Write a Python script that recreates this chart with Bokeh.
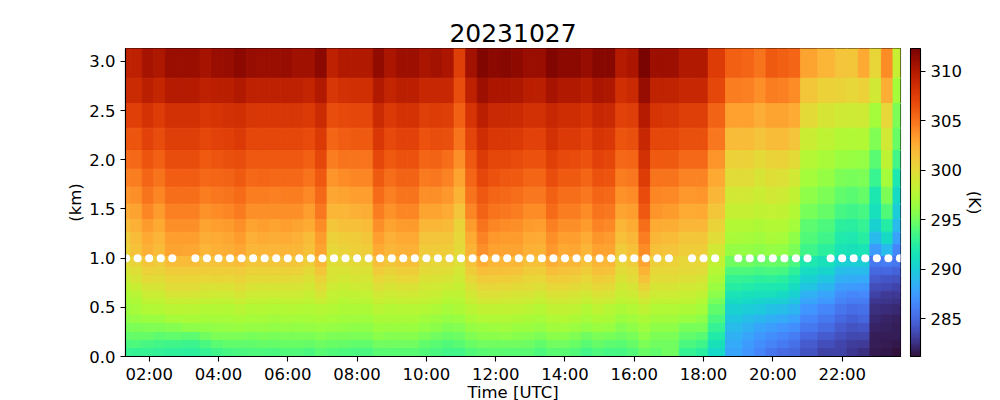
import numpy as np
from bokeh.plotting import figure
from bokeh.models import (ColumnDataSource, LinearColorMapper, ColorBar, FixedTicker,
                          Range1d, Title)
from bokeh.palettes import Turbo256
from bokeh.transform import transform
from bokeh.embed import file_html
from bokeh.resources import INLINE

title_text = "20231027"
x_label = "Time [UTC]"
y_label = "(km)"
cbar_label = "(K)"
x_tick_labels = ["02:00", "04:00", "06:00", "08:00", "10:00", "12:00",
                 "14:00", "16:00", "18:00", "20:00", "22:00"]
y_ticks = [0.0, 0.5, 1.0, 1.5, 2.0, 2.5, 3.0]
cbar_ticks = [285, 290, 295, 300, 305, 310]
t_low, t_high = 281.2, 312.3

times = ["01:20", "01:40", "02:00", "02:20", "02:40",
         "03:20", "03:40", "04:00", "04:20", "04:40", "05:00", "05:20", "05:40", "06:00", "06:20",
         "06:40", "07:00", "07:20", "07:40", "08:00", "08:20", "08:40", "09:00", "09:20", "09:40",
         "10:00", "10:20", "10:40", "11:00", "11:20", "11:40", "12:00", "12:20", "12:40", "13:00",
         "13:20", "13:40", "14:00", "14:20", "14:40", "15:00", "15:20", "15:40", "16:00", "16:20",
         "16:40", "17:00", "17:40", "18:00", "18:20", "19:00", "19:20", "19:40", "20:00", "20:20",
         "20:40", "21:00", "21:40", "22:00", "22:20", "22:40", "23:00", "23:20", "23:40"]

# edges of the height cells, top to bottom (km)
height_edges = [3.132, 2.830, 2.573, 2.322, 2.095, 1.905, 1.722, 1.549, 1.393, 1.264, 1.139, 1.017,
                0.908, 0.824, 0.742, 0.664, 0.593, 0.529, 0.422, 0.336, 0.244, 0.163, 0.081, 0.0]

# temperature (K), one list per height cell, top to bottom, one value per time
r01 = [309.5,309.5,310.5,310.2,311, 311,310.5,311,311.2,311.6,311.2,311,311,311.1,
       310.8,310.8,311.6,309.5,310,310,310.1,311.4,310.3,310.9,310.9,
       310.4,310.6,310.3,307.5,310.6,312,311.6,311.8,311.5,311,
       311,312,311.6,311.6,311.1,311.8,311.7,309.9,310.3,312.3,
       310.9,310.9,310.1,310.1,307.6,305.8,305.6,305,306,305.8,
       305.6,303,302.2,301.3,301.2,302.8,300.3,304,298.5]
r02 = [308.7,308.7,309.6,309.1,309.9, 309.9,309.4,309.6,309.7,310,309.4,309.4,309.4,309.5,
       309.4,309.2,310,308,308.3,308.5,308.5,310,309.2,309.6,309.6,
       308.9,309,308.9,306.7,309.5,310.9,310.3,310.3,310.2,309.7,
       309.6,310.5,310,310,309.7,310.4,310.2,308.5,308.8,311.2,
       309.3,309.3,308.9,308.9,307,304.6,304.5,303.9,304.6,304.5,
       304,301.2,300.6,300.4,300.2,300.6,299,302.5,296.8]
r03 = [307.4,307.4,308.2,307.6,308.4, 308.4,307.9,308.1,308.3,308.5,308,307.9,307.9,308,
       308,307.8,308.7,306.7,306.9,307,307,308.7,307.8,308.2,308.2,
       307.5,307.6,307.5,305.8,308.1,309.6,308.8,308.8,308.7,308.3,
       308.3,309,308.6,308.6,308.2,308.9,308.8,307.3,307.5,309.9,
       308.1,308,307.5,307.5,305.7,303.1,303.1,302.5,303,303,
       302.6,300,299.2,298.9,298.7,298.9,296.8,300.2,295.4]
r04 = [306.3,306.3,307.2,306.7,307.5, 307.5,307,307.3,307.4,307.7,307,307,307,307,
       307,306.8,307.8,305.6,305.9,306.1,306,307.9,306.9,307.2,307.2,
       306.4,306.6,306.5,305,307.1,308.6,307.9,307.9,307.7,307.3,
       307.3,308.3,307.7,307.7,307.2,308.1,307.9,306.3,306.5,309,
       307,307,306.5,306.5,304.8,301.8,301.8,301.3,301.8,301.8,
       301.3,298.6,298,297.5,297.4,297.5,295.5,299,294.7]
r05 = [305.3,305.4,306.3,305.8,306.6, 306.6,306.1,306.3,306.5,306.7,306.2,306.2,306.2,306.2,
       306.2,305.8,307,304.6,304.9,305,305,307,306,306.4,306.4,
       305.6,305.7,305.2,303.9,306.2,307.7,307,307,306.8,306.4,
       306.4,307.4,306.9,306.8,306.4,307.2,307,305.4,305.5,308.3,
       306,306,305.4,305.4,303.6,300.6,300.6,300,300.5,300.5,
       300,297.7,297,296.5,296.3,296.2,294.2,298,293.5]
r06 = [304.5,304.6,305.6,305,305.9, 305.9,305.4,305.6,305.7,306,305.4,305.5,305.4,305.4,
       305.4,305,306.2,303.6,304,304.2,304.2,306.1,305.2,305.7,305.7,
       304.7,304.8,304.3,303,305.6,307,306.4,306.2,306,305.6,
       305.6,306.6,306,306,305.5,306.4,306.3,304.6,304.8,307.6,
       305,304.9,304.3,304.4,302.8,299.8,299.8,299.3,299.7,299.6,
       299,296.8,296.2,295.3,295.2,295.4,293.2,296.8,292]
r07 = [303.6,303.8,304.9,304.2,305.2, 305.2,304.6,304.8,304.9,305.3,304.6,304.6,304.5,304.6,
       304.6,304.1,305.4,302.9,303,303.2,303.2,305.3,304.5,304.9,304.9,
       303.8,303.9,303.5,302.3,304.9,306.2,305.6,305.4,305.2,304.8,
       304.8,305.8,305.2,305.2,304.8,305.5,305.4,303.7,304,306.8,
       304.2,304.1,303.5,303.6,302,299,299,298.6,299,298.9,
       298.2,296,295.4,294.5,294.3,294.6,291.8,295.4,290.8]
r08 = [302.7,303,304.2,303.4,304.5, 304.5,303.7,304,304.2,304.7,303.8,303.9,303.8,303.9,
       303.8,303.3,304.8,302.1,302.2,302.4,302.5,304.6,303.7,304.2,304.2,
       303,303,302.6,301.3,304.2,305.7,305,304.8,304.6,304,
       304,305.3,304.6,304.6,304,305,304.8,303,303.3,306.2,
       303.6,303.4,302.7,302.8,301.2,298.4,298.4,298.1,298.3,298.2,
       297.6,295.2,294.6,293.7,293.4,293.7,291.2,294,290]
r09 = [301.8,302.4,303.4,302.8,303.8, 303.8,303,303.3,303.4,303.8,303,303.2,303,303.2,
       303,302.6,304,301.2,301.5,301.6,301.8,303.9,303,303.4,303.4,
       302,302,301.9,300.5,303.4,304.9,304.2,304,303.9,303.4,
       303.2,304.5,303.9,303.9,303.4,304.3,304.1,302.1,302.6,305.2,
       302.7,302.5,302,302,300.4,297.6,297.6,297.3,297.6,297.5,
       296.8,294.4,293.9,292.7,292.6,293,290.3,292.3,289]
r10 = [301,301.8,302.8,302.2,303.3, 303.3,302.5,302.7,302.9,303.4,302.4,302.6,302.5,302.6,
       302.4,301.8,303.4,300.6,300.8,301,301.2,303.2,302.4,302.8,302.8,
       301.3,301.3,301.2,300.2,302.7,304.3,303.5,303.4,303.4,302.8,
       302.7,303.9,303.3,303.3,302.6,303.6,303.4,301.5,302,304.6,
       302,301.8,301.2,301.2,299.8,297,296.9,296.7,297,296.9,
       296,294,293.4,292.1,291.9,292.4,289,290.8,287.8]
r11 = [300.6,301.4,302.4,301.8,303, 302.9,302.2,302.4,302.5,302.9,302,302.2,302.1,302.2,
       302,301.6,303,300.2,300.5,300.7,300.8,302.8,302,302.4,302.4,
       300.9,300.9,300.8,300,302.3,303.9,303.1,303,303,302.4,
       302.3,303.5,302.8,302.9,302.2,303.1,303,301,301.6,304,
       301.5,301.3,300.8,300.8,299,296.2,296.2,295.9,296.2,296.1,
       295.3,293.4,292.7,291.6,291.4,291.6,287.5,289,286.5]
r12 = [300,300.4,301.2,301,301.8, 301.8,301.3,301.4,301.5,301.8,301.2,301.3,301.2,301.3,
       301.2,300.8,302,299.7,299.9,300,300,301.7,301.2,301.5,301.5,
       300.4,300.2,300.3,299.6,301.4,302.7,302.2,302.1,302,301.5,
       301.5,302.5,302,302,301.4,302.2,302.1,300.3,300.8,303,
       300.7,300.6,300.2,300.2,298.2,295,295,294.6,294.8,294.6,
       293.8,292,291.4,290.2,290,290,285.7,286,285.7]
r13 = [299.2,299.7,300.6,300.4,301, 301,300.8,300.8,300.8,301,300.6,300.6,300.6,300.6,
       300.6,300,301.2,299.4,299.4,299.6,299.5,300.9,300.5,300.8,300.8,
       300,299.8,299.7,299.1,300.8,301.7,301.5,301.5,301.4,301,
       300.8,301.7,301.4,301.3,300.8,301.5,301.4,299.8,300.2,302.3,
       300.2,300.2,300,299.8,297.7,293.9,293.9,293.6,293.8,293.6,
       292.8,291,290.5,289.2,289,289,285,285,284.8]
r14 = [298.5,299.2,300,299.9,300.3, 300.3,300.2,300.3,300.2,300.5,300,300,300,300,
       299.9,299.5,300.5,299.2,299,299.2,299.1,300.2,299.9,300.2,300.2,
       299.5,299.4,299.2,298.8,300.2,301,300.9,300.8,300.7,300.3,
       300.2,301,300.8,300.7,300.2,300.8,300.7,299.4,299.8,301.4,
       299.8,299.8,299.6,299.3,297,293.1,292.9,292.7,292.8,292.6,
       291.8,290.3,289.6,288.4,288.3,288.2,284.4,284.2,284]
r15 = [297.8,298.5,299.3,299.2,299.8, 299.8,299.5,299.5,299.5,299.8,299.4,299.3,299.3,299.3,
       299.3,299,299.9,298.8,298.5,298.7,298.7,299.6,299.3,299.5,299.5,
       299,298.9,298.6,298.4,299.6,300.2,300.2,300.1,300,299.8,
       299.6,300.2,300.2,300,299.7,300.2,300,298.9,299.2,300.5,
       299.2,299.3,299,298.8,296.4,292.4,292.2,292,292,291.8,
       291,289.5,288.8,287.6,287.4,287.3,283.8,283.7,283.5]
r16 = [297.2,297.8,298.6,298.6,299.2, 299.2,299,298.9,298.9,299.2,298.8,298.7,298.7,298.8,
       298.7,298.5,299.2,298.3,298.1,298.2,298.3,299,298.8,299,299,
       298.6,298.5,298,298,299,299.6,299.6,299.5,299.3,299.2,
       299,299.5,299.5,299.3,299,299.5,299.3,298.5,298.8,299.6,
       298.8,298.8,298.5,298.2,295.8,291.6,291.4,291.2,291.2,290.9,
       290.2,288.6,288,286.9,286.5,286.6,283.3,283,283]
r17 = [296.8,297.3,298,298,298.5, 298.5,298.3,298.2,298.2,298.5,298.2,298.2,298,298.2,
       298.2,298,298.5,298,297.7,297.8,297.8,298.5,298.3,298.4,298.4,
       298.1,298,297.5,297.7,298.5,299,299,298.9,298.8,298.6,
       298.4,298.9,298.9,298.7,298.4,298.8,298.6,298,298.2,298.9,
       298.2,298.2,298,297.6,295.2,291,290.7,290.5,290.3,290.1,
       289.5,288,287.3,286.3,286,286,282.9,282.7,282.6]
r18 = [296.5,296.9,297.4,297.5,297.8, 297.8,297.6,297.6,297.6,297.8,297.5,297.5,297.4,297.6,
       297.5,297.4,297.7,297.5,297.2,297.3,297.2,297.8,297.6,297.7,297.7,
       297.5,297.3,296.9,297.2,297.8,298.2,298.2,298.1,298,297.9,
       297.7,298.2,298.2,298,297.6,298,297.7,297.2,297.5,298,
       297.4,297.4,297.2,296.8,294.5,290.3,290,289.8,289.4,289.2,
       288.7,287.2,286.5,285.6,285.3,285.4,282.5,282.3,282.2]
r19 = [296,296.2,296.4,296.5,296.9, 297,296.8,296.9,296.9,297.1,296.8,296.9,296.7,296.9,
       296.8,296.8,297,296.8,296.7,296.7,296.6,297.1,297,297,297,
       296.7,296.5,296.2,296.3,297,297.4,297.4,297.4,297.3,297.1,
       296.9,297.4,297.5,297.3,296.9,297.2,297,296.5,296.7,297.2,
       296.7,296.7,296.3,296,293.8,289.6,289.2,288.8,288.4,288.2,
       287.8,286.5,285.8,285,284.7,284.9,282.2,282,281.9]
r20 = [295.2,295.4,295.5,295.5,295.6, 296,296,296.1,296.2,296.3,296.2,296.2,296.1,296.2,
       296.1,296.2,296.3,296.2,296.1,296,296,296.5,296.4,296.4,296.4,
       296.1,295.8,295.5,295.6,296.2,296.5,296.6,296.7,296.5,296.4,
       296.2,296.7,296.7,296.5,296.1,296.4,296.3,295.6,295.9,296.6,
       296,296,295.2,295.2,293,289,288.5,288,287.6,287.2,
       286.9,285.7,285.1,284.4,284.1,284.2,282,281.9,281.8]
r21 = [294.5,294.6,294.6,294.4,294.5, 294.4,295,295.3,295.4,295.4,295.2,295.3,295.2,295.4,
       295.4,295.4,295.6,295.4,295.4,295.3,295.3,295.8,295.6,295.7,295.7,
       295.3,295,294.8,294.9,295.5,295.8,295.8,295.9,295.7,295.6,
       295.3,295.8,295.8,295.5,295,295.3,295.2,295,295.2,296,
       295.4,295.4,294.5,294.2,292.2,288.6,288,287.3,286.8,286.5,
       286,285,284.4,283.9,283.6,283.6,281.8,281.8,281.7]
r22 = [293.8,293.9,293.7,293.5,293.4, 293.3,293.8,294.2,294.5,294.5,294.5,294.6,294.6,294.8,
       294.7,294.6,294.9,294.7,294.6,294.5,294.5,295,295,295,295,
       294.5,294.3,294,294.2,294.7,295,295,295,295,294.9,
       294.5,295,295,294.7,294.2,294.6,294.4,294.3,294.6,295.4,
       295,295,293.8,293.4,291.3,288.2,287.5,286.8,286.3,285.9,
       285.4,284.4,283.8,283.5,283.1,283,281.7,281.6,281.5]
r23 = [293.2,293.1,293,292.9,292.8, 292.7,293,293.4,293.6,293.8,293.9,293.9,293.8,294,
       294,293.8,294.2,294,293.9,293.8,293.8,294.3,294.3,294.3,294.3,
       294,293.8,293.5,293.5,294,294.3,294.4,294.2,294.3,294.2,
       293.9,294.3,294.3,294,293.5,293.9,293.7,293.6,294,294.7,
       294.5,295,293,292.6,290.7,288,287.2,286.4,285.6,285.2,
       284.9,284,283.3,283.3,282.9,282.5,281.6,281.5,281.3]
rows = [r01, r02, r03, r04, r05, r06, r07, r08, r09, r10, r11, r12,
        r13, r14, r15, r16, r17, r18, r19, r20, r21, r22, r23]

# level of the white markers (km)
marker_level = 1.0


def hours(s):
    h, m = s.split(":")
    return int(h) + int(m) / 60


centers = np.array([hours(s) for s in times])
x_lo, x_hi = hours("01:19"), hours("23:41")
mesh_shift = -2.0 / 60
mid = (centers[:-1] + centers[1:]) / 2 + mesh_shift
col_left = np.concatenate([[x_lo - 0.2], mid])
col_right = np.concatenate([mid, [x_hi + 0.2]])

left, right, top, bottom, temp = [], [], [], [], []
for j, row in enumerate(rows):
    assert len(row) == len(times), (j, len(row))
    for i, v in enumerate(row):
        left.append(col_left[i])
        right.append(col_right[i])
        top.append(height_edges[j])
        bottom.append(height_edges[j + 1])
        temp.append(v)

mapper = LinearColorMapper(palette=Turbo256, low=t_low, high=t_high)

p = figure(frame_width=775, frame_height=308, output_backend="svg", toolbar_location=None,
           x_range=Range1d(x_lo, x_hi), y_range=Range1d(0, height_edges[0]),
           min_border_left=125, min_border_top=48, min_border_bottom=44, min_border_right=100,
           background_fill_color="white", border_fill_color="white")

src = ColumnDataSource(dict(left=left, right=right, top=top, bottom=bottom, temp=temp))
p.quad(left="left", right="right", top="top", bottom="bottom", source=src,
       fill_color=transform("temp", mapper), line_color=transform("temp", mapper), line_width=0.9)

p.scatter(x=centers, y=[marker_level] * len(centers), marker="circle", size=8,
          fill_color="white", line_color=None)

p.grid.visible = False
p.outline_line_color = "black"
p.outline_line_width = 1.1
p.outline_line_alpha = 1

p.title.text = title_text
p.title.align = "center"
p.title.text_font = "DejaVu Sans"
p.title.text_font_size = "25px"
p.title.text_font_style = "normal"
p.title.text_color = "black"
p.title.standoff = 13

text_size = "16.5px"
xa, ya = p.xaxis[0], p.yaxis[0]
xa.ticker = FixedTicker(ticks=[hours(s) for s in x_tick_labels])
xa.major_label_overrides = {hours(s): s for s in x_tick_labels}
ya.ticker = FixedTicker(ticks=y_ticks)
ya.major_label_overrides = {v: f"{v:.1f}" for v in y_ticks}
xa.axis_label = x_label
ya.axis_label = y_label
for a in (xa, ya):
    a.axis_line_color = "black"
    a.axis_line_width = 1.1
    a.major_tick_line_color = "black"
    a.major_tick_line_width = 1.1
    a.major_tick_in = 0
    a.major_tick_out = 5
    a.minor_tick_line_color = None
    a.major_label_text_font = "DejaVu Sans"
    a.major_label_text_font_size = text_size
    a.major_label_text_color = "black"
    a.axis_label_text_font = "DejaVu Sans"
    a.axis_label_text_font_size = text_size
    a.axis_label_text_font_style = "normal"
    a.axis_label_text_color = "black"
xa.axis_label_standoff = -4
ya.axis_label_standoff = 1
xa.major_label_standoff = 3
ya.major_label_standoff = 5

cb = ColorBar(color_mapper=mapper, ticker=FixedTicker(ticks=cbar_ticks), width=10, height=308,
              padding=0, margin=0, location=(10, 0),
              major_tick_in=0, major_tick_out=5, major_tick_line_color="black",
              major_tick_line_width=1.1, minor_tick_line_color=None,
              bar_line_color="black", bar_line_width=1.1,
              major_label_text_font="DejaVu Sans", major_label_text_font_size=text_size,
              major_label_text_color="black", label_standoff=5)
p.add_layout(cb, "right")

p.add_layout(Title(text=cbar_label, align="center", text_font="DejaVu Sans",
                   text_font_size=text_size, text_font_style="normal", text_color="black",
                   standoff=1), "right")

open("out.html", "w").write(file_html(p, INLINE))
